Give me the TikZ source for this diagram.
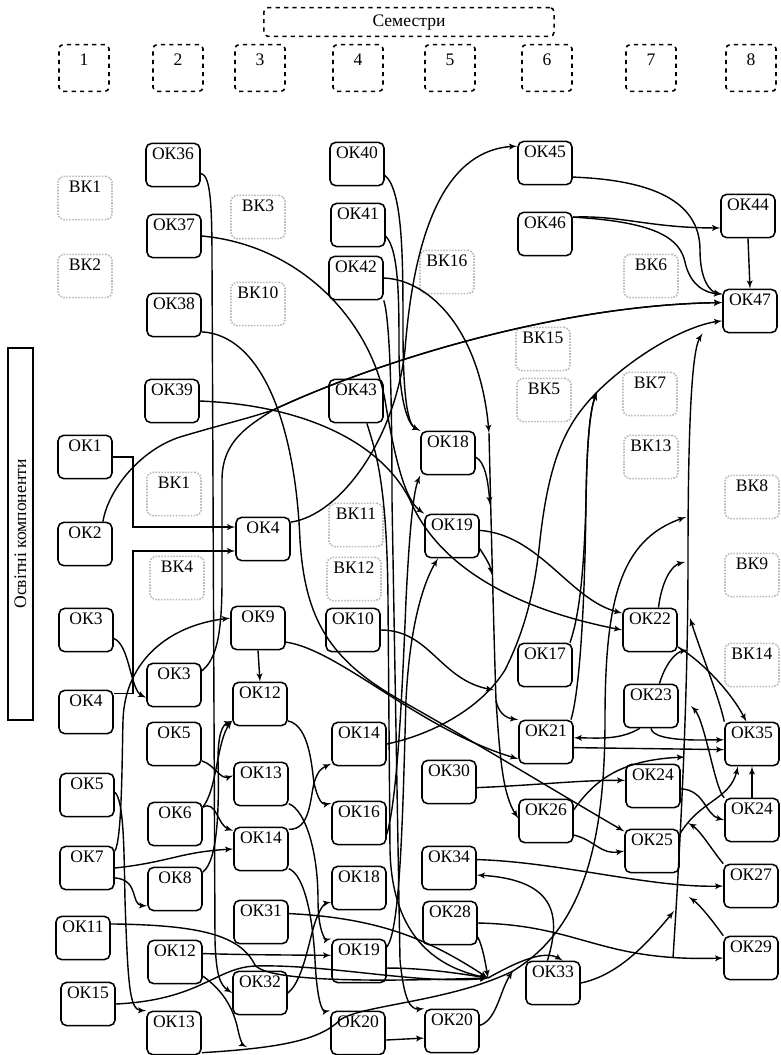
\documentclass[tikz,border=0pt]{standalone}
\usepackage{fontspec}
\setmainfont{Liberation Serif}
\usetikzlibrary{arrows}

\begin{document}
\begin{tikzpicture}[x=0.025cm,y=-0.025cm]
      \tikzset { ok/.style = { shape=rectangle,draw,rounded corners=4pt,line width=1.1pt,minimum width=1.35cm,minimum height=1.08cm,text height=8pt,text depth=16pt,inner sep=1pt,font=\fontsize{12.5}{14}\selectfont } }
      \tikzset { vk/.style = { ok,draw=gray!55,densely dotted,line width=1.2pt } }
      \tikzset { semester/.style = { shape=rectangle,draw,dashed,rounded corners=3pt,line width=1.1pt,minimum width=1.25cm,minimum height=1.17cm,text height=8pt,text depth=11pt,font=\fontsize{12.5}{14}\selectfont } }
      \tikzset { edge/.style = { ->,> = latex',line width=1pt } }

      \useasboundingbox (0,0) rectangle (781,1055);

      \node[semester,minimum width=7.25cm,minimum height=0.72cm,text depth=2pt] (sem) at (409,22) {Семестри};
      \foreach \n/\x in {1/84,2/178,3/260,4/358,5/450,6/547,7/651,8/751}
        \node[semester] (s\n) at (\x,68) {\n};

      \node[draw,line width=1.1pt,rotate=90,minimum width=9.3cm,minimum height=0.62cm,inner sep=1pt,font=\fontsize{12.5}{14}\selectfont] (side) at (20.5,534) {Освітні компоненти};

      % semester 1
      \node[vk] (vkA1) at (85,198) {ВК1};
      \node[vk] (vkA2) at (85,276) {ВК2};
      \node[ok] (okA1) at (85,457) {ОК1};
      \node[ok] (okA2) at (85,544) {ОК2};
      \node[ok] (okA3) at (86,630) {ОК3};
      \node[ok] (okA4) at (86,712) {ОК4};
      \node[ok] (okA5) at (87,795) {ОК5};
      \node[ok] (okA7) at (87,868) {ОК7};
      \node[ok] (okA11) at (83,938) {ОК11};
      \node[ok] (okA15) at (88,1004) {ОК15};

      % semester 2
      \node[ok] (okB36) at (173,165) {ОК36};
      \node[ok] (okB37) at (174,236) {ОК37};
      \node[ok] (okB38) at (174,315) {ОК38};
      \node[ok] (okB39) at (172,401) {ОК39};
      \node[vk] (vkB1) at (174,494) {ВК1};
      \node[vk] (vkB4) at (177,578) {ВК4};
      \node[ok] (okB3) at (174,685) {ОК3};
      \node[ok] (okB5) at (174,744) {ОК5};
      \node[ok] (okB6) at (175,824) {ОК6};
      \node[ok] (okB8) at (175,889) {ОК8};
      \node[ok] (okB12) at (175,962) {ОК12};
      \node[ok] (okB13) at (174,1033) {ОК13};

      % semester 3
      \node[vk] (vkC3) at (258,217) {ВК3};
      \node[vk] (vkC10) at (258,304) {ВК10};
      \node[ok] (okC4) at (263,539) {ОК4};
      \node[ok] (okC9) at (258,628) {ОК9};
      \node[ok] (okC12) at (260,704) {ОК12};
      \node[ok] (okC13) at (261,784) {ОК13};
      \node[ok] (okC14) at (261,849) {ОК14};
      \node[ok] (okC31) at (261,922) {ОК31};
      \node[ok] (okC32) at (260,993) {ОК32};

      % semester 4
      \node[ok] (okD40) at (357,164) {ОК40};
      \node[ok] (okD41) at (358,225) {ОК41};
      \node[ok] (okD42) at (356,278) {ОК42};
      \node[ok] (okD43) at (356,401) {ОК43};
      \node[vk] (vkD11) at (356,525) {ВК11};
      \node[vk] (vkD12) at (354,579) {ВК12};
      \node[ok] (okD10) at (353,630) {ОК10};
      \node[ok] (okD14) at (359,744) {ОК14};
      \node[ok] (okD16) at (359,823) {ОК16};
      \node[ok] (okD18) at (359,888) {ОК18};
      \node[ok] (okD19) at (359,961) {ОК19};
      \node[ok] (okD20) at (358,1033) {ОК20};

      % semester 5
      \node[vk] (vkE16) at (447,272) {ВК16};
      \node[ok] (okE18) at (448,453) {ОК18};
      \node[ok] (okE19) at (452,536) {ОК19};
      \node[ok] (okE30) at (449,782) {ОК30};
      \node[ok] (okE34) at (449,868) {ОК34};
      \node[ok] (okE28) at (450,923) {ОК28};
      \node[ok] (okE20) at (452,1031) {ОК20};

      % semester 6
      \node[ok] (okF45) at (545,163) {ОК45};
      \node[ok] (okF46) at (545,234) {ОК46};
      \node[vk] (vkF15) at (543,349) {ВК15};
      \node[vk] (vkF5) at (544,400) {ВК5};
      \node[ok] (okF17) at (545,665) {ОК17};
      \node[ok] (okF21) at (546,742) {ОК21};
      \node[ok] (okF26) at (546,821) {ОК26};
      \node[ok] (okF33) at (553,983) {ОК33};

      % semester 7
      \node[vk] (vkG6) at (651,276) {ВК6};
      \node[vk] (vkG7) at (650,394) {ВК7};
      \node[vk] (vkG13) at (651,457) {ВК13};
      \node[ok] (okG22) at (650,630) {ОК22};
      \node[ok] (okG23) at (651,706) {ОК23};
      \node[ok] (okG24) at (653,786) {ОК24};
      \node[ok] (okG25) at (652,851) {ОК25};

      % semester 8
      \node[ok] (okH44) at (748,216) {ОК44};
      \node[ok] (okH47) at (750,311) {ОК47};
      \node[vk] (vkH8) at (752,497) {ВК8};
      \node[vk] (vkH9) at (752,575) {ВК9};
      \node[vk] (vkH14) at (752,665) {ВК14};
      \node[ok] (okH35) at (752,744) {ОК35};
      \node[ok] (okH24) at (752,820) {ОК24};
      \node[ok] (okH27) at (751,886) {ОК27};
      \node[ok] (okH29) at (751,958) {ОК29};

      % merge points on the long lines
      \coordinate (bA) at (489,433);
      \coordinate (bB) at (490,505);
      \coordinate (bC) at (492,575);
      \coordinate (bD) at (494,690);
      \coordinate (bJ) at (496,700);
      \coordinate (bE) at (247,1047);
      \coordinate (bF) at (686,517);
      \coordinate (bG) at (513,971);
      \coordinate (bH) at (674,911);
      \coordinate (bI) at (685,757);
      \coordinate (bJ2) at (685,562);
      \coordinate (bK) at (688,650);
      \coordinate (bL) at (690,618);
      \coordinate (bM) at (691,706);
      \coordinate (bN) at (688,823);
      \coordinate (bO) at (689,897);
      \coordinate (bP) at (673,958);
      \coordinate (bQ) at (597,392);
      \coordinate (mrg) at (488,978);

      % top part
      \draw[edge] (okA1.east) -| (133,500) |- ([yshift=8.5pt]okC4.west);
      \draw[edge] ([yshift=13pt]okA4.east) -| (133,600) |- ([yshift=-8.5pt]okC4.west);
      \draw[edge] ([xshift=-7pt]okA2.north east) .. controls (108,490) and (140,450) .. (180,437) .. controls (220,425) and (250,418) .. (273,410) .. controls (380,360) and (560,305) .. ([yshift=6pt]okH47.west);
      \draw[edge] ([yshift=10pt]okB3.east) .. controls (215,660) and (222,640) .. (222,580) -- (222,480) .. controls (222,440) and (250,425) .. (273,410) .. controls (380,360) and (560,305) .. ([yshift=6pt]okH47.west);
      \draw[edge] ([yshift=12pt]okC4.east) .. controls (340,515) and (395,440) .. (405,350) .. controls (415,220) and (450,150) .. ([yshift=12pt]okF45.west);
      \draw[edge] ([yshift=-10pt]okF45.east) .. controls (650,180) and (700,200) .. (700,250) .. controls (700,280) and (710,292) .. ([yshift=12pt]okH47.west);
      \draw[edge] ([yshift=12pt]okF46.east) .. controls (620,215) and (650,228) .. ([yshift=-8.5pt]okH44.west);
      \draw[edge] ([yshift=12pt]okF46.east) .. controls (660,222) and (680,240) .. (685,262) .. controls (690,285) and (705,293) .. ([yshift=12pt]okH47.west);
      \draw[edge] (okH44.south) -- (okH47.north);
      \draw[edge] (okD14.east) .. controls (430,735) and (480,710) .. (505,670) .. controls (525,630) and (535,590) .. (540,540) .. controls (550,450) and (570,420) .. (bQ) .. controls (640,350) and (690,325) .. ([yshift=-7pt]okH47.west);
      \draw[edge] ([yshift=-6pt]okB36.east) .. controls (210,175) and (212,200) .. (212,260) -- (215,940) .. controls (216,975) and (220,985) .. (okC32.west);
      \draw[edge] (okB37.east) .. controls (300,245) and (370,320) .. (385,400) .. controls (395,460) and (405,500) .. (okE19.north west);
      \draw[edge] ([yshift=-8pt]okD40.east) .. controls (403,190) and (403,260) .. (403,330) .. controls (403,400) and (408,425) .. (okE18.north west);
      \draw[edge] ([yshift=-8pt]okD41.east) .. controls (399,250) and (399,300) .. (399,350) .. controls (399,400) and (408,425) .. (okE18.north west);
      \draw[edge] (okD42.south east) .. controls (390,320) and (392,400) .. (392,500) -- (400,960) .. controls (404,1000) and (410,1010) .. (okE20.north west);
      \draw[edge] ([xshift=-12pt]okD43.south east) .. controls (375,450) and (387,480) .. (388,600) -- (390,850) .. controls (392,940) and (440,968) .. (mrg);
      \draw[edge] (okD42.east) .. controls (430,280) and (480,330) .. (bA);
      \draw[edge] (bA) .. controls (491,520) and (494,640) .. (bJ) .. controls (498,712) and (505,718) .. (okF21.north west);
      \draw[edge] (bJ) .. controls (500,760) and (503,795) .. ([yshift=-14pt]okF26.north west);
      \draw[edge] ([yshift=-12pt]okB38.east) .. controls (260,335) and (295,420) .. (300,540) .. controls (305,620) and (330,660) .. (400,700) .. controls (480,745) and (570,800) .. ([yshift=14pt]okG25.west);
      \draw[edge] (okB39.east) .. controls (300,405) and (380,440) .. (410,500) .. controls (440,570) and (520,610) .. (okG22.west);
      \draw[edge] ([yshift=4pt]okE19.east) .. controls (540,535) and (570,600) .. ([yshift=12pt]okG22.west);
      \draw[edge] ([yshift=-3pt]okE18.east) .. controls (485,462) and (488,480) .. (bB);
      \draw[edge] ([yshift=-9pt]okE19.east) .. controls (487,560) and (490,565) .. (bC);
      \draw[edge] (okD10.east) .. controls (430,630) and (440,680) .. (bD);

      % left part
      \draw[edge] ([yshift=-10pt]okC9.east) .. controls (340,650) and (420,730) .. ([yshift=-12pt]okF21.west);
      \draw[edge] (okC9.south) -- (okC12.north);
      \draw[edge] ([yshift=12pt]okA7.east) .. controls (122,840) and (122,760) .. (123,720) .. controls (125,660) and (170,625) .. ([yshift=7pt]okC9.west);
      \draw[edge] ([yshift=-6pt]okA3.east) .. controls (130,645) and (130,690) .. ([yshift=-9pt]okB3.west);
      \draw[edge] ([yshift=2pt]okA5.east) .. controls (124,800) and (124,850) .. (125,900) .. controls (128,990) and (130,1010) .. (okB13.north west);
      \draw[edge] (okA7.east) .. controls (170,862) and (180,852) .. (okC14.west);
      \draw[edge] ([yshift=-7pt]okA7.east) .. controls (140,880) and (130,905) .. ([yshift=-12pt]okB8.west);
      \draw[edge] ([yshift=-12pt]okB5.east) .. controls (215,765) and (220,780) .. ([yshift=6pt]okC13.west);
      \draw[edge] ([yshift=12pt]okB6.east) .. controls (217,790) and (217,740) .. ([yshift=-12pt]okC12.west);
      \draw[edge] ([yshift=12pt]okB6.east) .. controls (217,800) and (217,825) .. ([yshift=13pt]okC14.west);
      \draw[edge] ([yshift=12pt]okB8.east) .. controls (219,860) and (219,800) .. (218,760) .. controls (218,735) and (222,725) .. ([yshift=-12pt]okC12.west);
      \draw[edge] ([yshift=-12pt]okC12.east) .. controls (310,725) and (312,770) .. (314,783) .. controls (318,800) and (322,805) .. ([yshift=14pt]okD16.west);
      \draw[edge] ([yshift=14pt]okC14.east) .. controls (310,830) and (310,800) .. (314,783) .. controls (318,770) and (322,768) .. ([yshift=-14pt]okD14.west);
      \draw[edge] ([yshift=-14pt]okC13.east) .. controls (305,810) and (318,850) .. (318,900) .. controls (318,930) and (325,940) .. (okD19.north west);
      \draw[edge] ([yshift=-14pt]okC14.east) .. controls (305,875) and (313,920) .. (315,960) .. controls (317,1000) and (322,1012) .. (okD20.north west);
      \draw[edge] (okC32.east) .. controls (305,980) and (310,930) .. (318,915) .. controls (322,905) and (326,903) .. ([yshift=-10pt]okD18.west);
      \draw[edge] ([yshift=6pt]okB12.east) .. controls (250,955) and (300,955) .. ([yshift=4pt]okD19.west);
      \draw[edge] ([yshift=-10pt]okB12.east) .. controls (215,985) and (232,1000) .. (238,1030) .. controls (240,1040) and (243,1045) .. (bE);
      \draw[edge] ([yshift=-14pt]okB13.east) .. controls (280,1048) and (320,1040) .. (340,1020) .. controls (360,1005) and (450,1002) .. (bG) .. controls (580,930) and (605,850) .. (605,720) .. controls (605,600) and (620,540) .. (bF);
      \draw[edge] ([yshift=-5pt]okD20.east) -- ([yshift=-5pt]okE20.west);
      \draw[edge] ([yshift=4pt]okE20.east) .. controls (497,1020) and (500,990) .. (bG);
      \draw[edge] ([yshift=-8pt]okD16.east) .. controls (397,800) and (402,700) .. (406,600) .. controls (410,520) and (414,490) .. (okE18.south west);
      \draw[edge] ([yshift=10pt]okD19.east) .. controls (401,930) and (403,800) .. (406,700) .. controls (410,620) and (425,580) .. ([xshift=-10pt]okE19.south);

      % bottom part
      \draw[edge] ([yshift=6pt]okC31.east) .. controls (380,918) and (430,940) .. (mrg);
      \draw[edge] ([yshift=-5pt]okD19.east) .. controls (420,968) and (450,972) .. (mrg);
      \draw[edge] ([yshift=10pt]okA11.east) .. controls (200,925) and (240,935) .. (255,965) .. controls (270,985) and (420,980) .. (mrg);
      \draw[edge] (okA15.east) .. controls (200,1000) and (215,968) .. (255,966) .. controls (330,964) and (420,985) .. (mrg);
      \draw[edge] (okE28.east) .. controls (580,925) and (600,962) .. (okH29.west);
      \draw[edge] ([yshift=-10pt]okE28.east) .. controls (482,945) and (485,960) .. (mrg);
      \draw[edge] (mrg) .. controls (520,960) and (545,950) .. ([xshift=7pt]okF33.north);
      \draw[edge] (okF33.east) .. controls (620,975) and (650,940) .. (bH);
      \draw[edge] ([xshift=-4pt]okF33.north) .. controls (560,920) and (560,880) .. ([yshift=-5pt]okE34.east);
      \draw[edge] ([yshift=6pt]okE34.east) .. controls (560,862) and (650,888) .. (okH27.west);

      % right part
      \draw[edge] (bP) .. controls (680,850) and (688,700) .. (688,560) .. controls (688,420) and (692,350) .. ([xshift=-14pt]okH47.south west);
      \draw[edge] ([xshift=-2pt]okF21.north east) .. controls (580,690) and (585,600) .. (586,500) .. controls (587,440) and (590,410) .. (bQ);
      \draw[edge] ([xshift=-2pt]okF17.north east) .. controls (578,620) and (584,580) .. (586,500) .. controls (587,440) and (590,410) .. (bQ);
      \draw[edge] ([yshift=-4pt]okE30.east) .. controls (540,785) and (580,780) .. ([yshift=4pt]okG24.west);
      \draw[edge] ([yshift=8pt]okF26.east) .. controls (595,780) and (620,760) .. (bI);
      \draw[edge] ([yshift=-10pt]okF26.east) .. controls (595,840) and (600,855) .. (okG25.west);
      \draw[edge] ([yshift=-4pt]okF21.east) -- ([yshift=-4pt]okH35.west);
      \draw[edge] (okG23.south) .. controls (652,735) and (665,740) .. (700,740) -- ([yshift=3pt]okH35.west);
      \draw[edge] ([xshift=-8pt]okG23.south) .. controls (620,740) and (600,738) .. ([yshift=3pt]okF21.east);
      \draw[edge] ([xshift=6pt]okG22.north) .. controls (662,580) and (672,565) .. (bJ2);
      \draw[edge] ([yshift=-12pt]okG22.east) .. controls (700,660) and (730,690) .. ([xshift=-4pt]okH35.north);
      \draw[edge] ([xshift=6pt]okG23.north) .. controls (665,665) and (675,652) .. (bK);
      \draw[edge] (okH35.north west) .. controls (720,700) and (700,650) .. (bL);
      \draw[edge] ([yshift=-2pt]okG24.east) .. controls (705,790) and (705,815) .. (okH24.west);
      \draw[edge] (okH24.north) -- (okH35.south);
      \draw[edge] ([yshift=12pt]okG25.east) .. controls (700,800) and (730,800) .. ([xshift=-10pt]okH35.south);
      \draw[edge] (okH24.north west) .. controls (715,790) and (705,720) .. (bM);
      \draw[edge] (okH27.north west) .. controls (712,850) and (700,830) .. (bN);
      \draw[edge] (okH29.north west) .. controls (712,920) and (700,905) .. (bO);

    \end{tikzpicture}
\end{document}
